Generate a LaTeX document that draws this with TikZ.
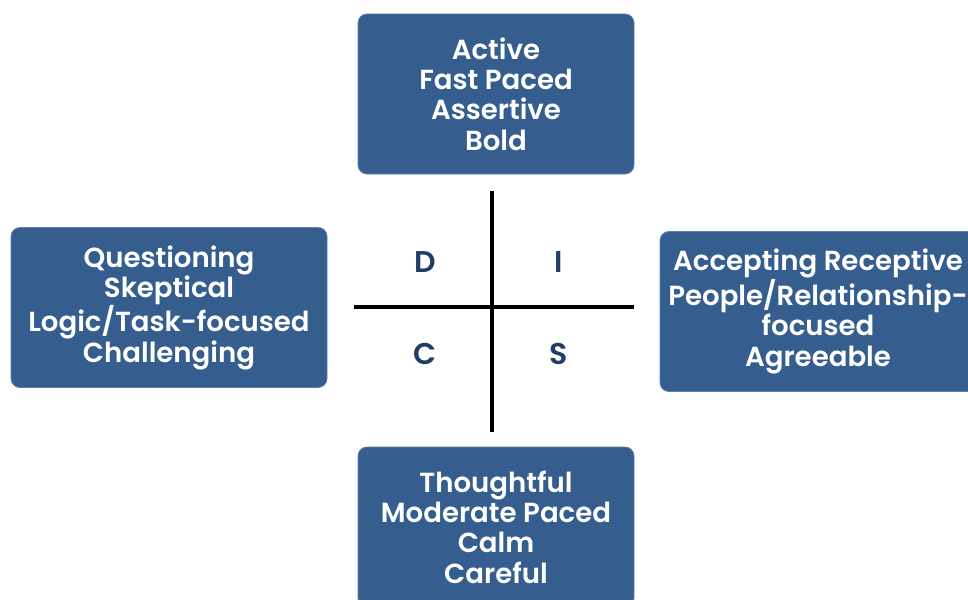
\documentclass[tikz,border=0pt]{standalone}
\usepackage{fontspec}
\setmainfont{Poppins}[BoldFont={Poppins SemiBold}]
\usetikzlibrary{positioning}

\definecolor{boxblue}{HTML}{355E8F}
\definecolor{letterblue}{HTML}{1F3E66}

\begin{document}
\begin{tikzpicture}[
        x=1pt, y=-1pt,
        mybox/.style={
            rectangle,
            rounded corners=9pt,
            fill=boxblue,
            draw=boxblue!80!white,
            line width=0.8pt,
            text=white,
            align=center,
            inner sep=0pt,
            minimum width=316pt,
            minimum height=160pt,
            font=\fontsize{27.6}{30.3}\selectfont\bfseries},
        myletter/.style={
            text=letterblue,
            font=\fontsize{30}{30}\selectfont\bfseries},
        myline/.style={line width=3.6pt}
        ]
        \useasboundingbox (0,0) rectangle (968,599);

        \node[mybox,minimum width=276pt] (top) at (496,94) {Active\\Fast Paced\\Assertive\\Bold};
        \node[mybox] (left) at (169,307.5) {Questioning\\Skeptical\\Logic/Task-focused\\Challenging};
        \node[mybox] (right) at (818,311.5) {Accepting Receptive\\People/Relationship-\\focused\\Agreeable};
        \node[mybox,minimum width=276pt] (bottom) at (496,527) {Thoughtful\\Moderate Paced\\Calm\\Careful};

        \foreach \n/\txt/\x/\y in {% name/letter/x/y
            d/D/425/262,
            i/I/559/262,
            c/C/425/354,
            s/S/559/354}
            \node[myletter] (\n) at (\x,\y) {\txt};

        \coordinate (vtop) at (492,191);
        \coordinate (vbot) at (492,432);
        \coordinate (hleft) at (354,307);
        \coordinate (hright) at (634,307);
        \draw[myline] (vtop) -- (vbot);
        \draw[myline] (hleft) -- (hright);
\end{tikzpicture}
\end{document}
